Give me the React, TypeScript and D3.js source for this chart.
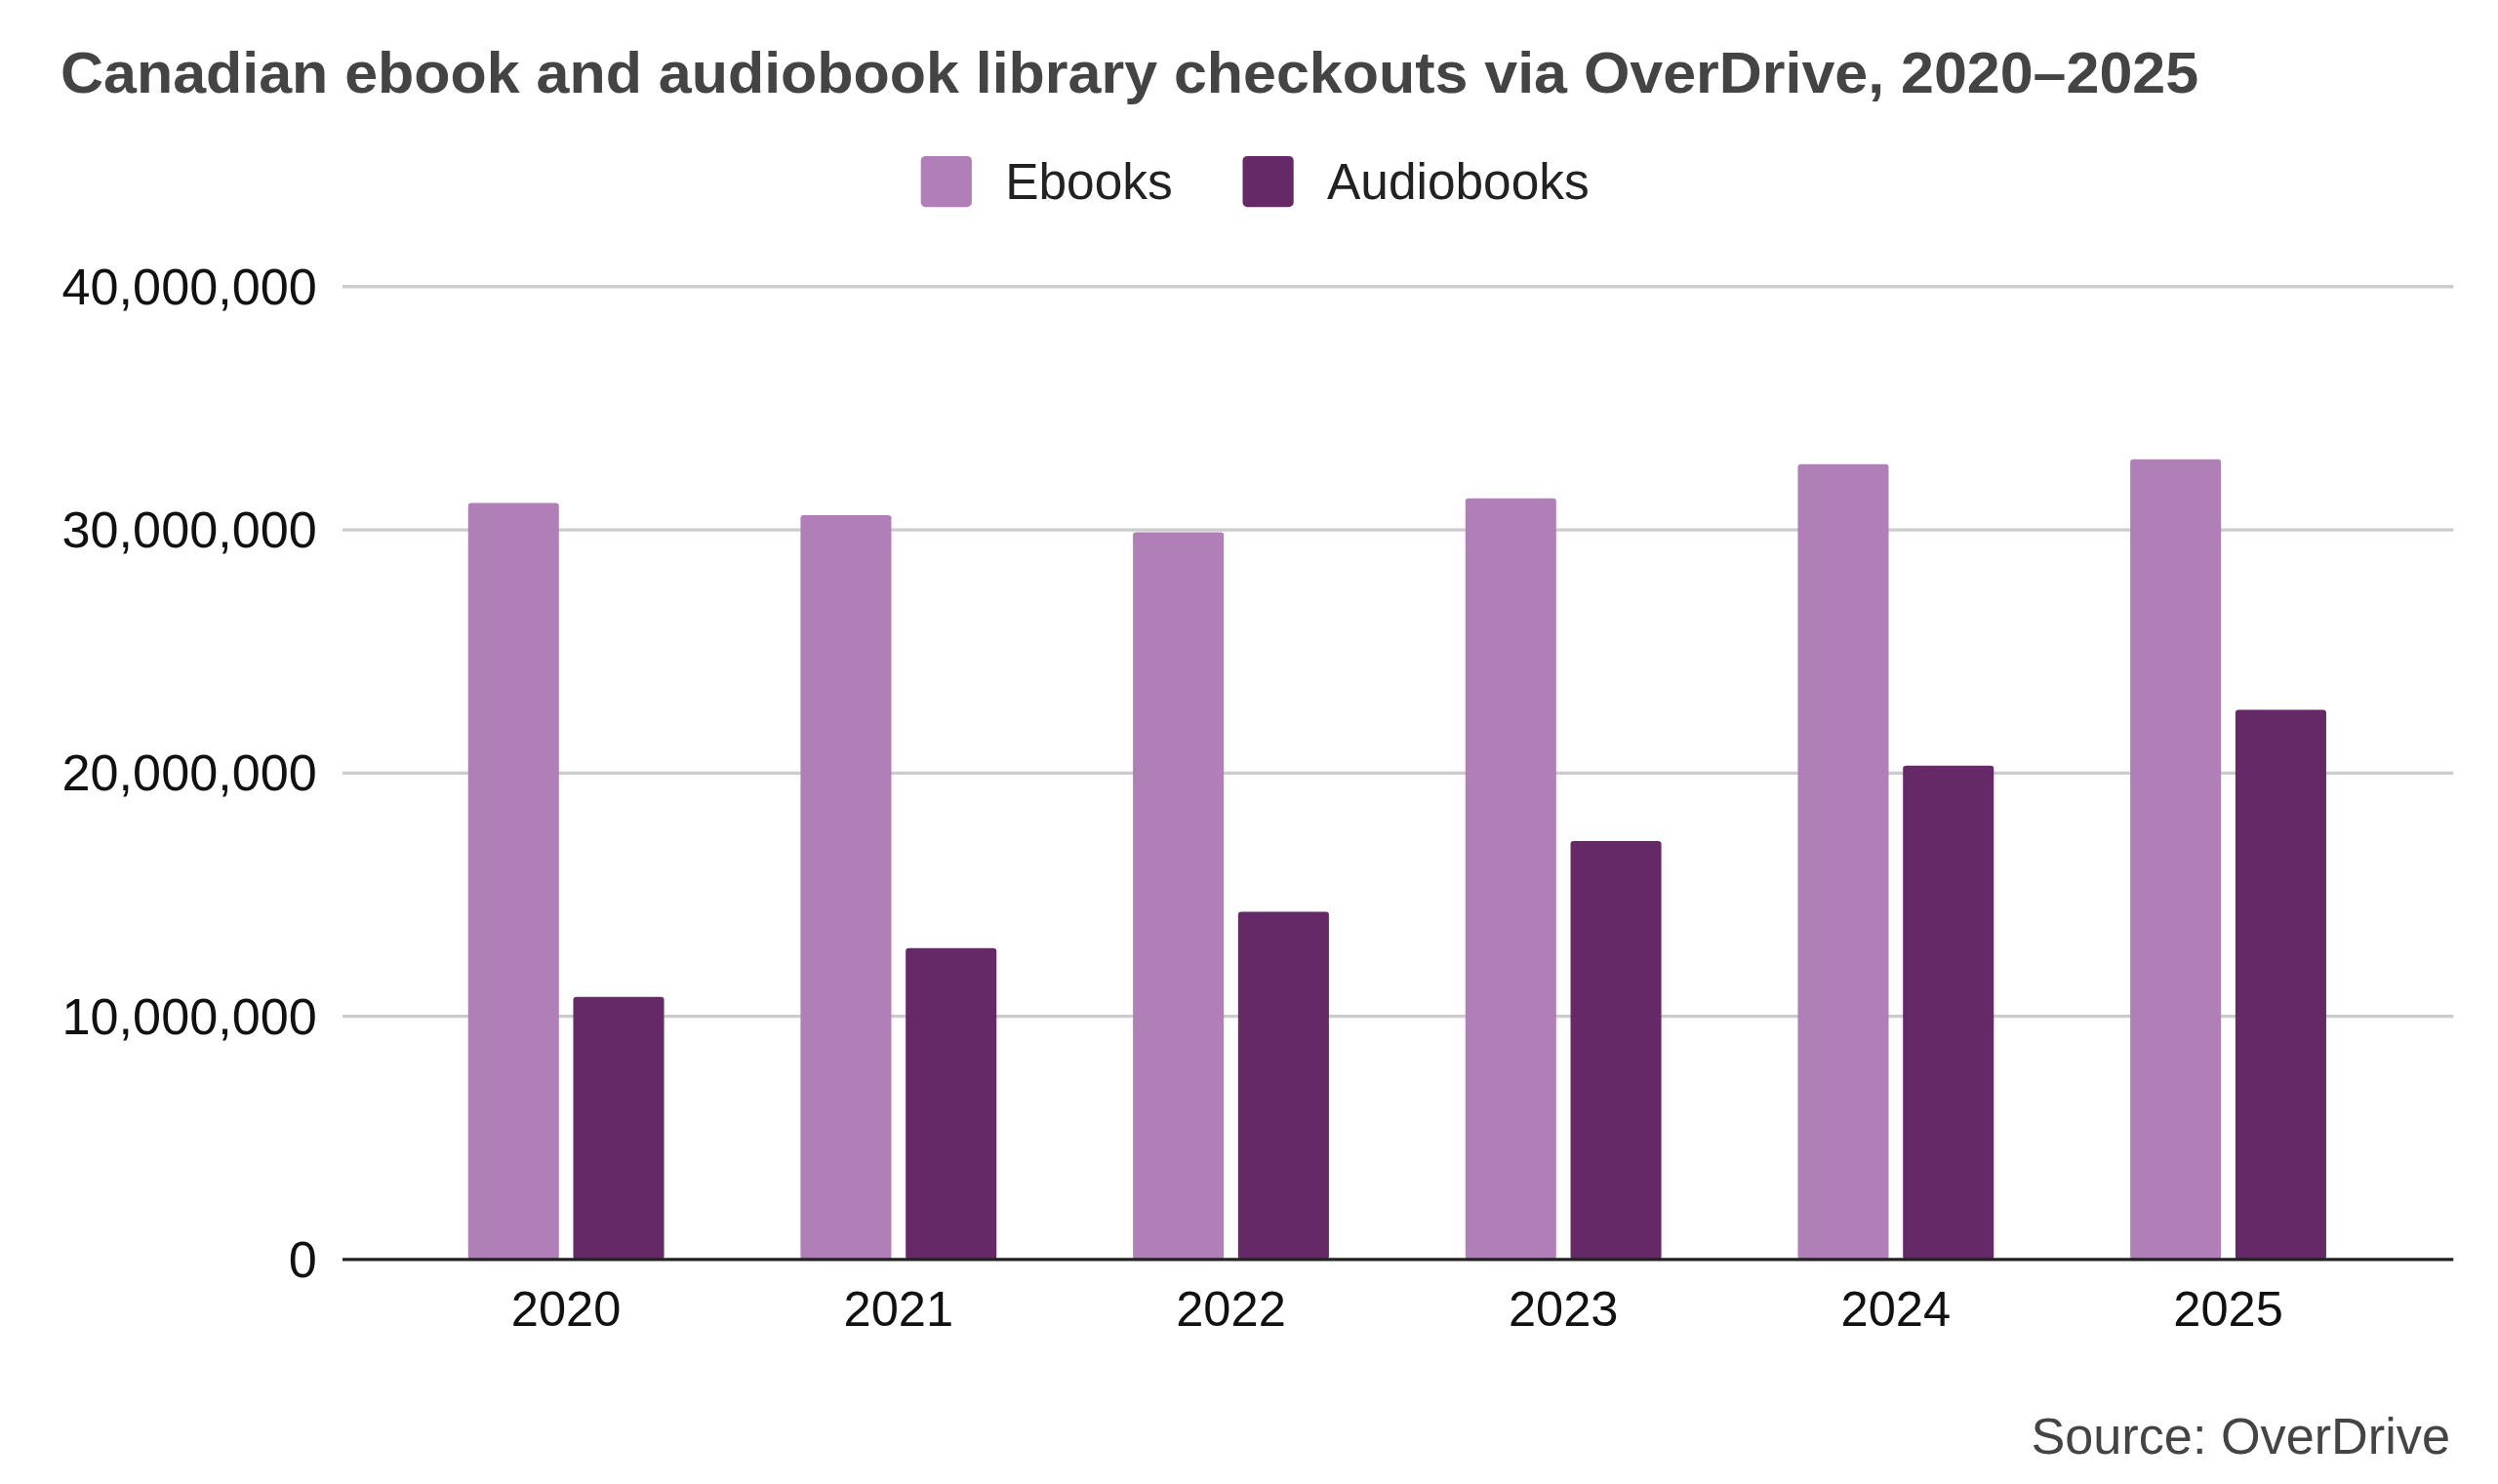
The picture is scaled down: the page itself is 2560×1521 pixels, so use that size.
import React, { useRef, useEffect } from "react";
import * as d3 from "d3";

const years = ["2020", "2021", "2022", "2023", "2024", "2025"];
const ebooks = [31100000, 30600000, 29900000, 31300000, 32700000, 32900000];
const audiobooks = [10800000, 12800000, 14300000, 17200000, 20300000, 22600000];
const yTicks = [0, 10000000, 20000000, 30000000, 40000000];
const seriesNames = ["Ebooks", "Audiobooks"];
const colors = ["#b07fb8", "#652968"];

const App: React.FC = () => {
  const svgRef = useRef<SVGSVGElement>(null);

  useEffect(() => {
    if (!svgRef.current) return;
    const svg = d3.select(svgRef.current);
    svg.selectAll("*").remove();
    const font = "'Liberation Sans', Arial, sans-serif";

    const y = d3.scaleLinear().domain([0, 40000000]).range([791, 180]);
    const x = d3.scaleBand().domain(years).range([251, 1503]).padding(0);
    const bw = 57;
    const gap = 9;

    svg.append("text").attr("x", 38).attr("y", 58).attr("font-family", font)
      .attr("font-weight", "bold").attr("font-size", 36.5).attr("fill", "#444")
      .attr("textLength", 1342).attr("lengthAdjust", "spacingAndGlyphs")
      .text("Canadian ebook and audiobook library checkouts via OverDrive, 2020–2025");

    // legend
    const lx = [578, 780];
    seriesNames.forEach((n, i) => {
      svg.append("rect").attr("x", lx[i]).attr("y", 98).attr("width", 32).attr("height", 32)
        .attr("rx", 3).attr("fill", colors[i]);
      svg.append("text").attr("x", lx[i] + 53).attr("y", 125).attr("font-family", font)
        .attr("font-size", 31.5).attr("fill", "#222").text(n);
    });

    // grid + y labels
    yTicks.forEach((t) => {
      if (t > 0)
        svg.append("line").attr("x1", 215).attr("x2", 1540).attr("y1", y(t)).attr("y2", y(t))
          .attr("stroke", "#ccc").attr("stroke-width", 2);
      svg.append("text").attr("x", 199).attr("y", y(t) + 11).attr("text-anchor", "end")
        .attr("font-family", font).attr("font-size", 32).attr("fill", "#111")
        .text(d3.format(",")(t));
    });

    const data = years.map((yr, i) => ({ yr, v: [ebooks[i], audiobooks[i]] }));
    data.forEach((d) => {
      const c = (x(d.yr) as number) + x.bandwidth() / 2;
      d.v.forEach((v, j) => {
        const x0 = j === 0 ? c - gap / 2 - bw : c + gap / 2;
        svg.append("rect").attr("x", x0).attr("y", y(v)).attr("width", bw)
          .attr("height", y(0) - y(v)).attr("rx", 2).attr("fill", colors[j]);
      });
      svg.append("text").attr("x", c).attr("y", 833).attr("text-anchor", "middle")
        .attr("font-family", font).attr("font-size", 31).attr("fill", "#111").text(d.yr);
    });

    svg.append("line").attr("x1", 215).attr("x2", 1540).attr("y1", y(0)).attr("y2", y(0))
      .attr("stroke", "#222").attr("stroke-width", 2);

    svg.append("text").attr("x", 1538).attr("y", 913).attr("text-anchor", "end")
      .attr("font-family", font).attr("font-size", 32).attr("fill", "#444").text("Source: OverDrive");
  }, []);

  return (
    <svg ref={svgRef} width={2560} height={1521} viewBox="0 0 1568 932" preserveAspectRatio="none"
      style={{ position: "absolute", left: 0, top: 0, background: "#fff" }} />
  );
};

export default App;
